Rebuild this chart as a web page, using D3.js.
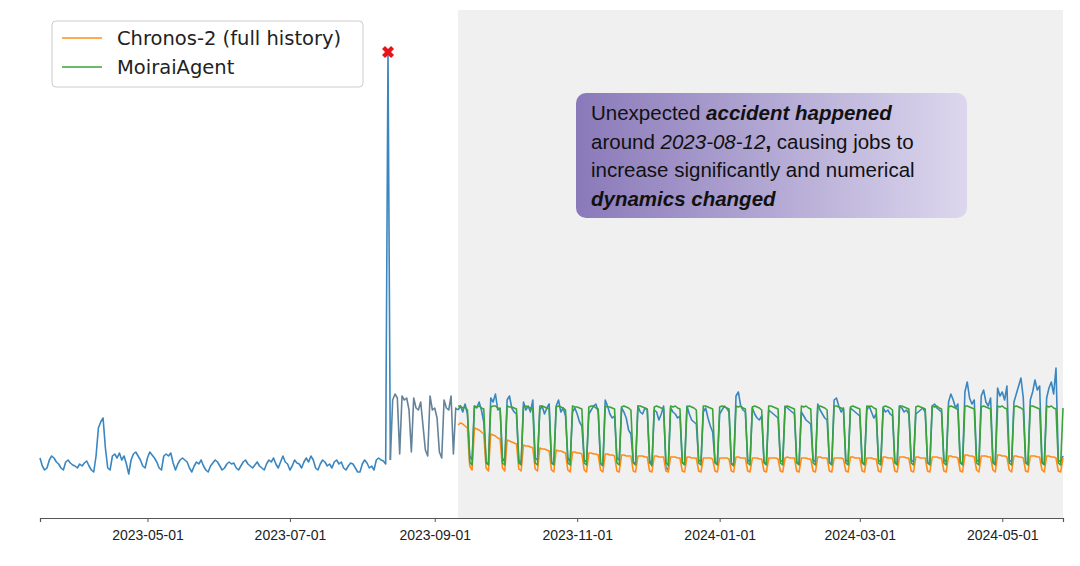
<!DOCTYPE html>
<html><head><meta charset="utf-8">
<script src="https://cdn.jsdelivr.net/npm/d3@7"></script>
<style>body{margin:0;background:#fff}</style>
</head><body><div id="chart"></div>
<script>
// daily job counts before the accident (ends 2023-08-11)
const historyVals = [60,52,48,50,58,62,60,56,54,50,48,56,58,55,53,52,50,54,52,55,57,52,48,46,62,90,96,100,70,50,48,62,64,60,65,58,62,54,44,58,64,66,62,58,52,50,60,66,63,60,56,50,48,62,64,62,65,55,48,54,58,60,58,56,50,46,52,56,54,58,52,48,46,52,55,58,56,52,48,50,54,56,54,55,50,48,52,56,58,54,52,50,53,56,52,50,48,54,58,56,60,54,50,56,62,56,54,48,52,58,55,54,50,56,60,56,62,58,50,48,54,58,56,52,54,50,56,58,54,56,50,48,52,55,54,50,46,46,54,58,55,50,52,48,58,60,58,57,54];
const spikeVal = 466;
const spikeDate = "2023-08-12";
// after the accident, before the forecast window
const postVals = [58,118,124,120,64,122,118,120,108,66,120,110,108,116,92,68,62,122,108,110,100,66,60,118,110,108,122,64,110];
const forecastStart = "2023-09-11";
const actualVals = [
108,112,106,114,104,62,58, 112,110,116,108,96,56,54, 120,116,124,108,110,60,56, 118,122,110,106,104,58,54,
116,108,112,106,118,60,58, 108,112,104,110,114,56,54, 112,118,106,110,102,60,56, 106,110,104,96,92,58,56,
104,108,112,114,106,54,52, 118,112,104,100,102,60,58, 110,106,100,88,84,56,54, 112,106,104,110,108,58,52,
108,106,98,104,112,50,48, 110,106,104,100,102,56,54, 112,104,98,96,94,58,56, 106,110,100,92,86,56,54,
104,108,112,110,106,54,52, 122,126,112,108,106,58,56, 110,104,100,98,102,56,54, 108,106,104,102,100,58,56,
112,110,108,106,104,56,54, 106,102,98,96,94,58,56, 114,108,104,100,98,56,54, 118,120,112,106,110,58,56,
110,108,106,104,102,56,54, 108,112,106,100,104,58,56, 110,106,108,104,102,56,54, 112,110,106,108,104,58,56,
104,106,108,110,106,56,54, 112,114,110,108,106,58,56, 116,124,118,110,114,56,54, 126,136,120,114,118,58,56,
122,128,116,112,120,56,54, 130,122,126,118,132,58,56, 116,124,132,140,120,56,54, 118,126,138,128,132,56,54,
120,130,136,124,150,58,56, 62];
const moiraiVals = [
112,112,110,111,108,56,53, 112,111,112,110,109,55,53, 111,112,112,110,109,55,53, 112,111,111,110,109,55,53,
111,112,111,110,109,55,53, 112,112,111,110,109,55,53, 111,112,111,110,108,55,53, 112,111,111,110,109,55,53,
111,112,112,110,109,55,53, 112,111,111,110,109,55,53, 111,112,111,110,108,55,53, 112,112,111,110,109,55,53,
111,112,111,110,109,55,53, 112,111,112,110,109,55,53, 111,112,111,110,108,55,53, 112,112,111,110,109,55,53,
111,112,111,110,109,55,53, 112,111,112,110,109,55,53, 111,112,111,110,108,55,53, 112,112,111,110,109,55,53,
111,112,111,110,109,55,53, 112,111,112,110,109,55,53, 111,112,111,110,108,55,53, 112,112,111,110,109,55,53,
111,112,111,110,109,55,53, 112,111,112,110,109,55,53, 111,112,111,110,108,55,53, 112,112,111,110,109,55,53,
111,112,111,110,109,55,53, 112,111,112,110,109,55,53, 111,112,111,110,108,55,53, 112,112,111,110,109,55,53,
111,112,111,110,109,55,53, 112,111,112,110,109,55,53, 111,112,111,110,108,55,53, 112,112,111,110,109,55,53,
112,111,112,110,109,55,53, 110];
const chronosVals = [
93,95,94,92,90,52,48, 90,89,88,86,84,50,47, 84,83,82,80,79,50,47, 78,77,76,75,74,49,47,
73,72,72,71,70,49,47, 70,69,69,68,67,48,46, 68,67,67,66,65,48,46, 66,66,65,65,64,48,46,
65,65,64,64,63,48,46, 64,64,63,63,62,47,46, 63,63,62,62,62,47,46, 62,62,62,61,61,47,46,
62,62,61,61,61,47,46, 61,61,61,60,60,47,46, 61,61,60,60,60,47,46, 60,60,60,60,59,47,46,
60,60,60,60,59,47,46, 61,61,60,60,60,47,46, 60,60,60,59,59,47,46, 60,60,60,60,59,47,46,
60,61,60,60,60,47,46, 60,60,60,59,59,47,46, 61,61,60,60,60,47,46, 60,60,60,60,59,47,46,
61,61,60,60,60,47,46, 60,60,60,59,59,47,46, 61,61,60,60,60,47,46, 61,61,61,60,60,47,46,
61,61,60,60,60,47,46, 61,61,61,60,60,47,46, 62,62,61,61,60,47,46, 63,63,62,62,61,48,46,
62,62,62,61,61,48,46, 63,63,62,62,61,48,46, 62,62,61,61,60,47,46, 62,62,62,61,61,48,46,
62,62,61,61,60,47,46, 60];
const tickLabels = ["2023-05-01","2023-07-01","2023-09-01","2023-11-01","2024-01-01","2024-03-01","2024-05-01"];

const W = 1080, H = 566;
const parse = d3.timeParse("%Y-%m-%d");
const spikeD = parse(spikeDate), fcD = parse(forecastStart);
const histData = historyVals.map((v, i) => ({d: d3.timeDay.offset(spikeD, i - historyVals.length), v}));
const pre = histData.concat([{d: spikeD, v: spikeVal}, {d: d3.timeDay.offset(spikeD, 1), v: postVals[0]}]);
const post = postVals.map((v, i) => ({d: d3.timeDay.offset(spikeD, i + 1), v}));
const toSeries = arr => arr.map((v, i) => ({d: d3.timeDay.offset(fcD, i), v}));
const actual = toSeries(actualVals), moirai = toSeries(moiraiVals), chronos = toSeries(chronosVals);
const endD = actual[actual.length - 1].d;

const x = d3.scaleTime().domain([histData[0].d, endD]).range([40, 1063]);
const y = d3.scaleLinear().domain([0, 480]).range([518, 38]);

const svg = d3.select("#chart").append("svg").attr("width", W).attr("height", H)
  .style("font-family", "DejaVu Sans, sans-serif");

svg.append("rect").attr("x", x(fcD)).attr("y", 10).attr("width", x(endD) - x(fcD)).attr("height", 508)
  .attr("fill", "#f0f0f0");

const line = d3.line().x(d => x(d.d)).y(d => y(d.v));
const draw = (data, color) => svg.append("path").datum(data).attr("d", line)
  .attr("fill", "none").attr("stroke", color).attr("stroke-width", 1.6).attr("stroke-linejoin", "round");
draw(pre, "#3a86c0");
draw(post.concat([actual[0]]), "#64829a");
draw(actual, "#3a86c0");
draw(chronos, "#ff8c1a");
draw(moirai, "#3aa33a");

// spike marker
const mx = x(spikeD), my = y(spikeVal);
svg.append("path").attr("transform", `translate(${mx},${my}) rotate(45)`)
  .attr("d", d3.symbol(d3.symbolCross, 90)()).attr("fill", "#e8141c");

const ax = svg.append("g").attr("transform", "translate(0,518)")
  .call(d3.axisBottom(x).tickValues(tickLabels.map(parse)).tickFormat(d3.timeFormat("%Y-%m-%d")).tickSizeOuter(0).tickSize(4));
ax.select(".domain").attr("stroke", "#555").attr("stroke-width", 1.2);
ax.selectAll(".tick line").attr("stroke", "#555");
ax.selectAll("text").attr("font-size", 14).attr("fill", "#222").attr("dy", "1.1em");

// legend
const lg = svg.append("g").attr("transform", "translate(52,21)");
lg.append("rect").attr("width", 311).attr("height", 66).attr("rx", 4).attr("fill", "#fff").attr("stroke", "#ccc");
[["Chronos-2 (full history)", "#ff8c1a"], ["MoiraiAgent", "#3aa33a"]].forEach(([t, c], i) => {
  const yy = 17 + i * 29;
  lg.append("line").attr("x1", 10).attr("x2", 50).attr("y1", yy).attr("y2", yy).attr("stroke", c).attr("stroke-width", 1.6);
  lg.append("text").attr("x", 65).attr("y", yy + 7).attr("font-size", 19.5).attr("fill", "#222").text(t);
});

// annotation
const grad = svg.append("defs").append("linearGradient").attr("id", "g1");
grad.append("stop").attr("offset", "0%").attr("stop-color", "#8a79b9");
grad.append("stop").attr("offset", "100%").attr("stop-color", "#dcd7ee");
svg.append("rect").attr("x", 576).attr("y", 93).attr("width", 391).attr("height", 125).attr("rx", 10).attr("fill", "url(#g1)");
const lines = [
  [["Unexpected ", ""], ["accident happened", "bi"]],
  [["around ", ""], ["2023-08-12", "i"], [",", "b"], [" causing jobs to", ""]],
  [["increase significantly and numerical", ""]],
  [["dynamics changed", "bi"]]
];
const at = svg.append("text").attr("font-family", "Liberation Sans, Arial, sans-serif").attr("font-size", 20.5).attr("fill", "#111");
lines.forEach((ln, i) => {
  ln.forEach(([t, s], j) => {
    const ts = at.append("tspan").text(t)
      .attr("font-weight", s.includes("b") ? "bold" : null)
      .attr("font-style", s.includes("i") ? "italic" : null)
      .style("white-space", "pre");
    if (j === 0) ts.attr("x", 591).attr("y", 120 + i * 28.5);
  });
});
</script></body></html>
